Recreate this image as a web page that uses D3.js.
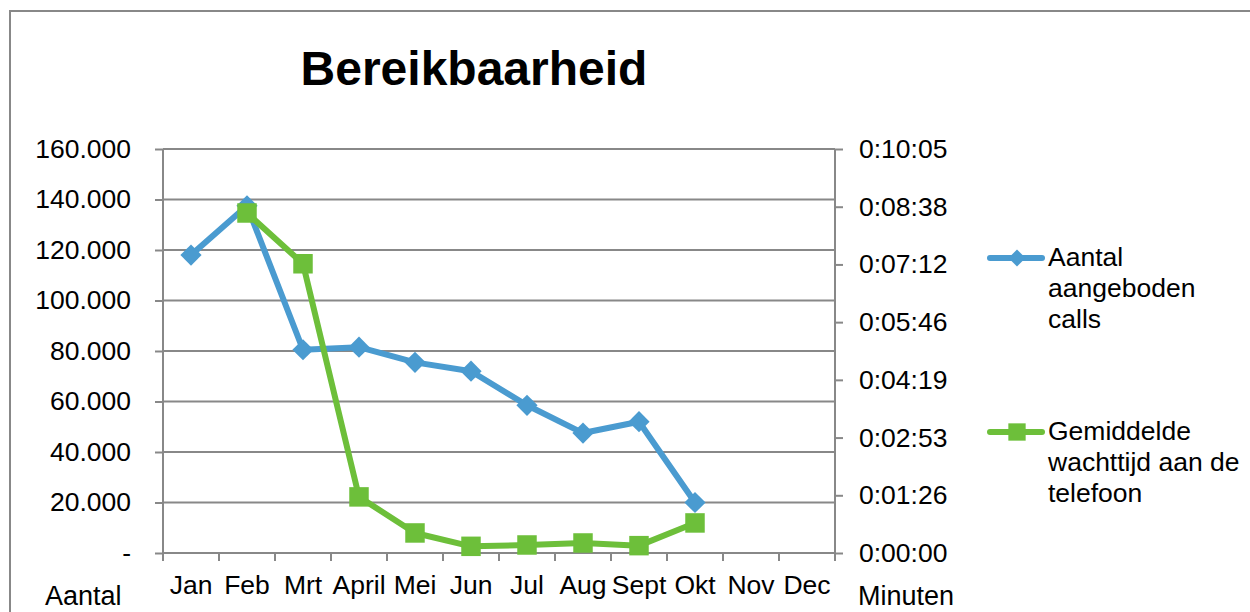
<!DOCTYPE html>
<html>
<head>
<meta charset="utf-8">
<script src="https://cdn.jsdelivr.net/npm/d3@7"></script>
<style>
  body { margin: 0; background: #fff; }
  text { font-family: "Liberation Sans", Arial, sans-serif; fill: #000; }
</style>
</head>
<body>
<div id="chart"></div>
<script>
// Data
var months = ["Jan", "Feb", "Mrt", "April", "Mei", "Jun", "Jul", "Aug", "Sept", "Okt", "Nov", "Dec"];
var calls = [118000, 137500, 80500, 81500, 75500, 72000, 58500, 47500, 52000, 20000, null, null];
// average wait time in seconds
var waitSeconds = [null, 509, 433, 84, 30, 10, 12, 15, 11, 45, null, null];
var leftTicks = [0, 20000, 40000, 60000, 80000, 100000, 120000, 140000, 160000];
var rightTicks = [0, 86.4, 172.8, 259.2, 345.6, 432, 518.4, 604.8];

var width = 1250;
var height = 612;
var plot = { left: 163, right: 835, top: 149, bottom: 553 };
var fontSize = "26.5px";

var blue = "#4A9BD0";
var green = "#6DBF3A";
var gray = "#888888";

var svg = d3.select("#chart")
    .append("svg")
    .attr("width", width)
    .attr("height", height);

// outer border of the chart (right and bottom run off the picture)
svg.append("rect")
    .attr("x", 10)
    .attr("y", 11)
    .attr("width", 1260)
    .attr("height", 620)
    .attr("fill", "none")
    .attr("stroke", gray)
    .attr("stroke-width", 2);

// Scales
var xScale = d3.scaleBand()
    .domain(months)
    .range([plot.left, plot.right]);

var yLeft = d3.scaleLinear()
    .domain([0, 160000])
    .range([plot.bottom, plot.top]);

var yRight = d3.scaleLinear()
    .domain([0, 604.8])
    .range([plot.bottom, plot.top]);

function formatCount(v) {
    if (v === 0) return "-";
    return d3.format(",")(v).replace(/,/g, ".");
}

function formatTime(s) {
    var t = Math.round(s);
    var h = Math.floor(t / 3600);
    var m = Math.floor((t % 3600) / 60);
    var sec = t % 60;
    return h + ":" + d3.format("02")(m) + ":" + d3.format("02")(sec);
}

// Gridlines
svg.append("g")
    .selectAll("line")
    .data(leftTicks)
    .enter()
    .append("line")
    .attr("x1", plot.left)
    .attr("x2", plot.right)
    .attr("y1", function (d) { return yLeft(d); })
    .attr("y2", function (d) { return yLeft(d); })
    .attr("stroke", gray)
    .attr("stroke-width", 2);

// Left axis
var leftAxis = svg.append("g")
    .attr("transform", "translate(" + plot.left + ",0)")
    .call(d3.axisLeft(yLeft).tickValues(leftTicks).tickFormat(formatCount).tickSize(8).tickPadding(24));

// Right axis
var rightAxis = svg.append("g")
    .attr("transform", "translate(" + plot.right + ",0)")
    .call(d3.axisRight(yRight).tickValues(rightTicks).tickFormat(formatTime).tickSize(8).tickPadding(16));

// Bottom axis, ticks sit between categories
var bottomAxis = svg.append("g")
    .attr("transform", "translate(0," + plot.bottom + ")")
    .call(d3.axisBottom(xScale).tickSize(0).tickPadding(22));

bottomAxis.selectAll(".tick")
    .append("line")
    .attr("x1", -xScale.bandwidth() / 2)
    .attr("x2", -xScale.bandwidth() / 2)
    .attr("y1", 0)
    .attr("y2", 8);

bottomAxis.append("line")
    .attr("x1", plot.right)
    .attr("x2", plot.right)
    .attr("y1", 0)
    .attr("y2", 8);

[leftAxis, rightAxis, bottomAxis].forEach(function (g) {
    g.select(".domain").attr("stroke", gray).attr("stroke-width", 2);
    g.selectAll("line").attr("stroke", gray).attr("stroke-width", 2);
    g.selectAll("text")
        .style("font-size", fontSize)
        .style("font-family", "'Liberation Sans', Arial, sans-serif")
        .attr("fill", "#000");
});
leftAxis.select(".domain").attr("d", "M0," + plot.bottom + "V" + plot.top);
rightAxis.select(".domain").attr("d", "M0," + (plot.bottom + 8) + "V" + plot.top);
bottomAxis.select(".domain").attr("d", "M" + plot.left + ",0H" + plot.right);

// Lines
var callsData = months.map(function (m, i) { return { month: m, value: calls[i] }; });
var waitData = months.map(function (m, i) { return { month: m, value: waitSeconds[i] }; });

var callsLine = d3.line()
    .defined(function (d) { return d.value !== null; })
    .x(function (d) { return xScale(d.month) + xScale.bandwidth() / 2; })
    .y(function (d) { return yLeft(d.value); });

var waitLine = d3.line()
    .defined(function (d) { return d.value !== null; })
    .x(function (d) { return xScale(d.month) + xScale.bandwidth() / 2; })
    .y(function (d) { return yRight(d.value); });

svg.append("path")
    .datum(callsData)
    .attr("d", callsLine)
    .attr("fill", "none")
    .attr("stroke", blue)
    .attr("stroke-width", 6)
    .attr("stroke-linejoin", "round");

svg.selectAll(".diamond")
    .data(callsData.filter(function (d) { return d.value !== null; }))
    .enter()
    .append("path")
    .attr("class", "diamond")
    .attr("d", d3.symbol(d3.symbolSquare).size(225))
    .attr("transform", function (d) {
        return "translate(" + (xScale(d.month) + xScale.bandwidth() / 2) + "," + yLeft(d.value) + ") rotate(45)";
    })
    .attr("fill", blue);

svg.append("path")
    .datum(waitData)
    .attr("d", waitLine)
    .attr("fill", "none")
    .attr("stroke", green)
    .attr("stroke-width", 6)
    .attr("stroke-linejoin", "round");

svg.selectAll(".square")
    .data(waitData.filter(function (d) { return d.value !== null; }))
    .enter()
    .append("path")
    .attr("class", "square")
    .attr("d", d3.symbol(d3.symbolSquare).size(380))
    .attr("transform", function (d) {
        return "translate(" + (xScale(d.month) + xScale.bandwidth() / 2) + "," + yRight(d.value) + ")";
    })
    .attr("fill", green);

// Title
svg.append("text")
    .attr("x", 474)
    .attr("y", 85)
    .attr("text-anchor", "middle")
    .style("font-size", "48px")
    .style("font-weight", "bold")
    .text("Bereikbaarheid");

// Axis titles
svg.append("text")
    .attr("x", 45)
    .attr("y", 605)
    .style("font-size", "27px")
    .text("Aantal");

svg.append("text")
    .attr("x", 858)
    .attr("y", 605)
    .style("font-size", "27px")
    .text("Minuten");

// Legend
var legendItems = [
    { color: blue, shape: "diamond", y: 258, lines: ["Aantal", "aangeboden", "calls"] },
    { color: green, shape: "square", y: 432, lines: ["Gemiddelde", "wachttijd aan de", "telefoon"] }
];

var legend = svg.selectAll(".legend")
    .data(legendItems)
    .enter()
    .append("g")
    .attr("class", "legend")
    .attr("transform", function (d) { return "translate(0," + d.y + ")"; });

legend.append("line")
    .attr("x1", 990)
    .attr("x2", 1042)
    .attr("y1", 0)
    .attr("y2", 0)
    .attr("stroke", function (d) { return d.color; })
    .attr("stroke-width", 6)
    .attr("stroke-linecap", "round");

legend.append("path")
    .attr("d", function (d) {
        return d3.symbol(d3.symbolSquare).size(d.shape === "diamond" ? 144 : 300)();
    })
    .attr("transform", function (d) {
        return "translate(1017,0)" + (d.shape === "diamond" ? " rotate(45)" : "");
    })
    .attr("fill", function (d) { return d.color; });

legend.append("text")
    .attr("x", 1048)
    .attr("y", 8)
    .style("font-size", fontSize)
    .selectAll("tspan")
    .data(function (d) { return d.lines; })
    .enter()
    .append("tspan")
    .attr("x", 1048)
    .attr("dy", function (d, i) { return i === 0 ? 0 : 31; })
    .text(function (d) { return d; });
</script>
</body>
</html>
